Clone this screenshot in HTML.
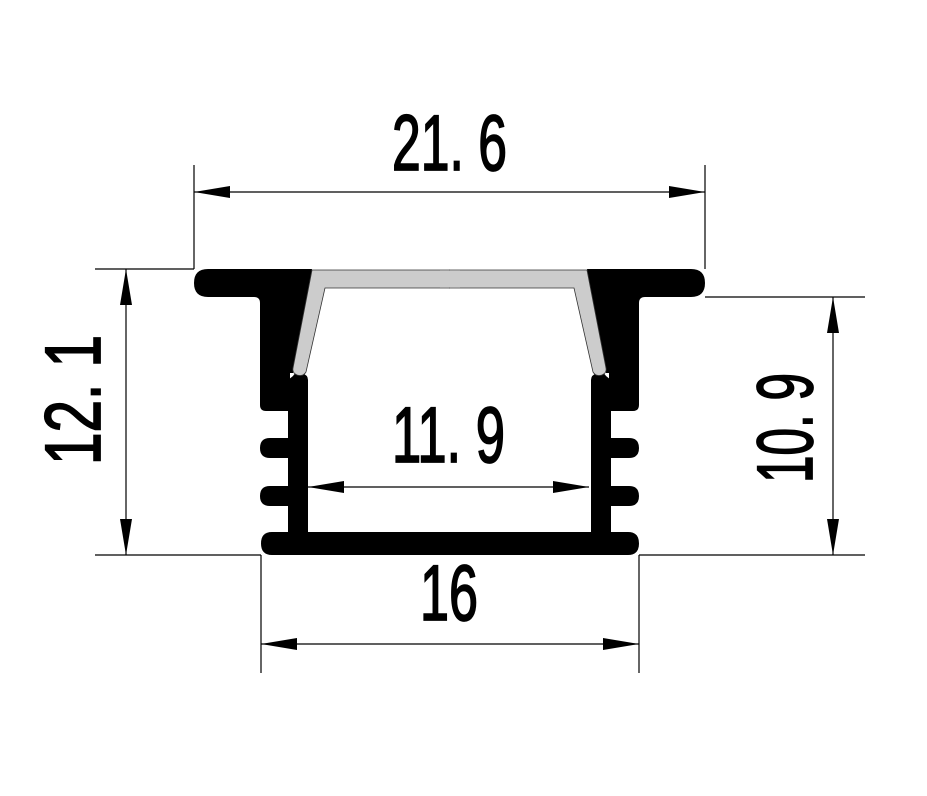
<!DOCTYPE html>
<html><head><meta charset="utf-8"><style>html,body{margin:0;padding:0;background:#fff}svg{display:block}</style></head>
<body>
<svg width="927" height="796" viewBox="0 0 927 796" xmlns="http://www.w3.org/2000/svg">
<defs>
<g id="half">
  <path d="M208,269 L312,269 L293,373 L290,373 L290,411 L266,411 Q260,411 260,405 L260,303 Q260,297 254,297 L208,297 Q194,297 194,283 Q194,269 208,269 Z" fill="#000"/>
  <path d="M293,376 Q295,372 302,373 Q308,375 308,380 L308,532 L288,532 L288,380 Z" fill="#000"/>
  <rect x="288" y="380" width="20" height="152" fill="#000"/>
  <path d="M290,438 L270,438 Q260,438 260,448 Q260,458 270,458 L290,458 Z" fill="#000"/>
  <path d="M290,486 L270,486 Q260,486 260,496 Q260,506 270,506 L290,506 Z" fill="#000"/>
  <path d="M312,270 L449.5,270 L449.5,288 L325,288 L306,372 Q303,377 297,375 Q292,373 293,368 Z" fill="#cccccc" stroke="#333" stroke-width="0.8"/>
</g>
</defs>
<use href="#half"/>
<use href="#half" transform="translate(899,0) scale(-1,1)"/>
<rect x="440" y="270.4" width="20" height="17.2" fill="#cccccc"/>
<path d="M272,532 L628,532 Q639,532 639,543.5 Q639,555 628,555 L272,555 Q261,555 261,543.5 Q261,532 272,532 Z" fill="#000"/>

<g stroke="#000" stroke-width="1.2" fill="none">
  <line x1="194" y1="165" x2="194" y2="269"/>
  <line x1="705" y1="165" x2="705" y2="269"/>
  <line x1="194" y1="192" x2="705" y2="192"/>
  <line x1="95" y1="269" x2="194" y2="269"/>
  <line x1="95" y1="555" x2="261" y2="555"/>
  <line x1="126" y1="269" x2="126" y2="555"/>
  <line x1="705" y1="297" x2="865" y2="297"/>
  <line x1="639" y1="555" x2="865" y2="555"/>
  <line x1="833" y1="297" x2="833" y2="555"/>
  <line x1="308" y1="487" x2="589" y2="487"/>
  <line x1="261" y1="555" x2="261" y2="673"/>
  <line x1="639" y1="555" x2="639" y2="673"/>
  <line x1="261" y1="644" x2="639" y2="644"/>
</g>
<g fill="#000">
  <polygon points="194,192 230,186 230,198"/>
  <polygon points="705,192 669,186 669,198"/>
  <polygon points="126,269 120,305 132,305"/>
  <polygon points="126,555 120,519 132,519"/>
  <polygon points="833,297 827,333 839,333"/>
  <polygon points="833,555 827,519 839,519"/>
  <polygon points="308,487 344,481 344,493"/>
  <polygon points="589,487 553,481 553,493"/>
  <polygon points="261,644 297,638 297,650"/>
  <polygon points="639,644 603,638 603,650"/>
</g>
<g font-family="Liberation Sans, sans-serif" font-size="79" fill="#000" stroke="#000" stroke-width="1.8">
  <text x="392" y="170" textLength="115" lengthAdjust="spacingAndGlyphs">21. 6</text>
  <text x="392" y="462" textLength="113" lengthAdjust="spacingAndGlyphs">11. 9</text>
  <text x="420" y="620" textLength="58" lengthAdjust="spacingAndGlyphs">16</text>
  <text transform="translate(100,465) rotate(-90)" textLength="130" lengthAdjust="spacingAndGlyphs">12. 1</text>
  <text transform="translate(812,483) rotate(-90)" textLength="110" lengthAdjust="spacingAndGlyphs">10. 9</text>
</g>
</svg>
</body></html>
